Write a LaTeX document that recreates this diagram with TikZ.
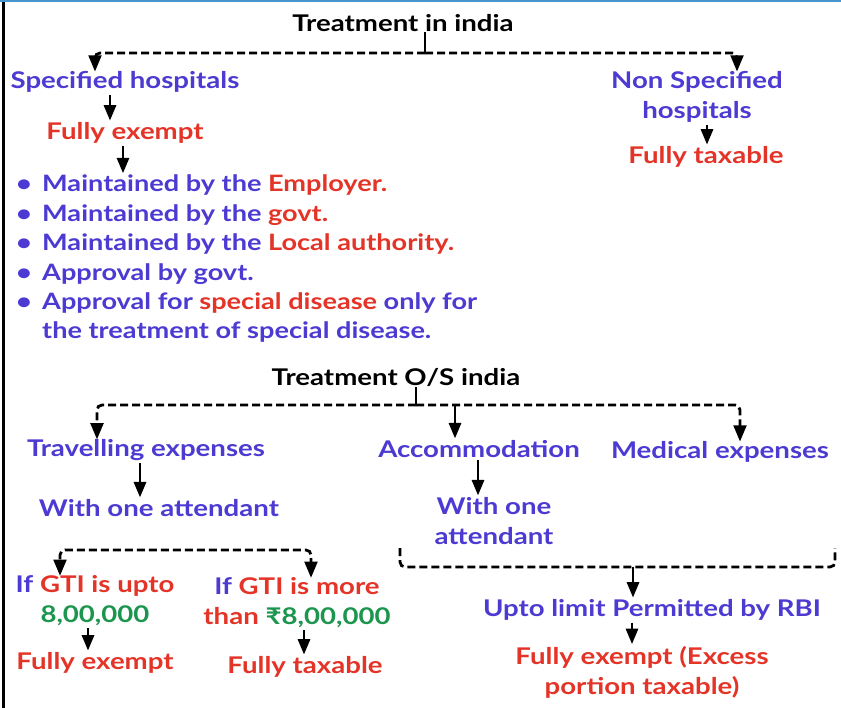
\documentclass[tikz,border=0pt]{standalone}
\usepackage{fontspec}
\setmainfont{Lato}[FakeStretch=1.2]
\usetikzlibrary{arrows}
\definecolor{hblue}{RGB}{76,58,210}
\definecolor{hred}{RGB}{228,52,40}
\definecolor{hgreen}{RGB}{28,150,78}
\definecolor{topblue}{RGB}{72,150,208}
\begin{document}
\begin{tikzpicture}[x=1pt,y=-1pt]
\tikzstyle{every node}=[inner sep=0pt, font=\bfseries\fontsize{23}{30}\selectfont]
\tikzstyle{arr}=[line width=2.6pt, -triangle 45, shorten <=2pt, shorten >=2pt]
\tikzstyle{dsh}=[line width=2.8pt, dash pattern=on 8pt off 4pt, rounded corners=5pt]
\tikzstyle{bul}=[font=\bfseries\fontsize{22.6}{29.4}\selectfont, align=left, text=hblue]
\useasboundingbox (0,0) rectangle (841,708);
\fill[white] (0,0) rectangle (841,708);
\fill[topblue] (0,0) rectangle (841,2.5);
\draw[line width=3pt] (3.5,2) -- (3.5,708);
% treatment in india
\node (tin) at (403,23) {Treatment in india};
\node (spec) at (125,82) [text=hblue] {Specified hospitals};
\node (fex1) at (125,133) [text=hred] {Fully exempt};
\node (nspec) at (697,97) [text=hblue, align=center] {Non Specified\\hospitals};
\node (ftax1) at (706,157) [text=hred] {Fully taxable};
\node (blist) at (16,175) [bul, anchor=north west] {%
\makebox[26pt][l]{\textbullet}Maintained by the \textcolor{hred}{Employer.}\\
\makebox[26pt][l]{\textbullet}Maintained by the \textcolor{hred}{govt.}\\
\makebox[26pt][l]{\textbullet}Maintained by the \textcolor{hred}{Local authority.}\\
\makebox[26pt][l]{\textbullet}Approval by govt.\\
\makebox[26pt][l]{\textbullet}Approval for \textcolor{hred}{special disease} only for\\
\hspace*{26pt}the treatment of special disease.};
\coordinate (j1) at (425,53);
\draw[line width=2pt] (tin.south -| j1) -- (j1);
\draw[dsh, -triangle 45] (j1) -| ([xshift=-30pt]spec.north);
\draw[dsh, -triangle 45] (j1) -| ([xshift=40pt]nspec.north);
\draw[arr] ([xshift=-15pt]spec.south) -- ([xshift=-15pt]fex1.north);
\draw[arr] ([xshift=-2pt]fex1.south) -- ([xshift=107pt]blist.north west);
\draw[arr] ([xshift=10pt]nspec.south) -- ([xshift=1pt]ftax1.north);
% treatment outside india
\node (tos) at (396,378) {Treatment O/S india};
\node (trav) at (146,450) [text=hblue] {Travelling expenses};
\node (acc) at (479,449) [text=hblue] {Accommodation};
\node (med) at (720,452) [text=hblue] {Medical expenses};
\node (att1) at (159,508) [text=hblue] {With one attendant};
\node (att2) at (494,521) [text=hblue, align=center] {With one\\attendant};
\coordinate (j2) at (416,405);
\draw[line width=2pt] (tos.south -| j2) -- (j2);
\draw[dsh, -triangle 45] (j2) -| ([xshift=-49pt]trav.north);
\draw[dsh, -triangle 45] (j2) -| ([xshift=20pt]med.north);
\draw[arr, shorten <=0pt] ([xshift=-24pt]acc.north |- j2) -- ([xshift=-24pt]acc.north);
\draw[arr] ([xshift=-6pt]trav.south) -- ([xshift=-19pt]att1.north);
\draw[arr] ([xshift=-1pt]acc.south) -- ([xshift=-16pt]att2.north);
% gti split
\node (gti1) at (95,601) [align=center, text=hred] {\textcolor{hblue}{If} GTI is upto\\\textcolor{hgreen}{8,00,000}};
\node (gti2) at (297,603) [align=center, text=hred] {\textcolor{hblue}{If} GTI is more\\than \textcolor{hgreen}{₹8,00,000}};
\node (fex2) at (95,663) [text=hred] {Fully exempt};
\node (ftax2) at (305,667) [text=hred] {Fully taxable};
\coordinate (j3) at (185,550);
\draw[dsh, triangle 45-triangle 45] ([xshift=-35pt]gti1.north) |- (j3) -| ([xshift=14pt]gti2.north);
\draw[arr] ([xshift=-7pt]gti1.south) -- ([xshift=-7pt]fex2.north);
\draw[arr] ([xshift=7pt]gti2.south) -- ([xshift=-1pt]ftax2.north);
% rbi limit
\node (rbi) at (652,610) [text=hblue] {Upto limit Permitted by RBI};
\node (fex3) at (642,672) [text=hred, align=center] {Fully exempt (Excess\\portion taxable)};
\coordinate (k1) at (400,548);
\coordinate (k2) at (835,548);
\coordinate (j4) at (633,567);
\draw[dsh] (k1) |- (j4) -| (k2);
\draw[arr, shorten <=0pt] (j4) -- ([xshift=-19pt]rbi.north);
\draw[arr] ([xshift=-20pt]rbi.south) -- ([xshift=-10pt]fex3.north);
\end{tikzpicture}
\end{document}
